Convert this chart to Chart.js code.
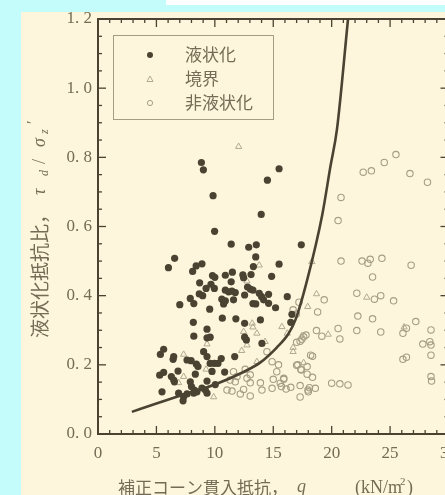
<!DOCTYPE html>
<html>
<head>
<meta charset="utf-8">
<script src="https://cdn.jsdelivr.net/npm/chart.js@4"></script>
<style>
  html, body { margin: 0; padding: 0; width: 445px; height: 495px; overflow: hidden; background: #c4fcfc; }
  #strip { position: absolute; left: 166px; top: 0; width: 279px; height: 5px; background: #fff; }
  #paper { position: absolute; left: 21px; top: 12px; width: 424px; height: 483px; background: #fdf6dc; }
  #c { position: absolute; left: 0; top: 0; }
</style>
</head>
<body>
<div id="strip"></div>
<div id="paper"></div>
<canvas id="c" width="480" height="495"></canvas>
<script>
// Liquefaction resistance ratio vs corrected cone resistance.
const seriesNames = ['液状化', '境界', '非液状化'];

const liquefied = [
  [8.85,0.785],[9.02,0.764],[15.5,0.767],[14.5,0.734],[9.85,0.689],[13.97,0.635],[9.98,0.586],[11.4,0.549],
  [12.9,0.54],[13.55,0.547],[17.4,0.547],[13.5,0.512],[6.56,0.508],[6.03,0.481],[15.5,0.491],[8.4,0.486],
  [8.9,0.492],[13.3,0.484],[8.1,0.47],[9.8,0.458],[10.0,0.453],[8.7,0.437],[9.67,0.433],[9.25,0.421],
  [9.96,0.421],[8.67,0.405],[8.96,0.4],[7.9,0.392],[8.2,0.377],[7.0,0.374],[9.56,0.361],[8.16,0.323],
  [10.9,0.459],[11.5,0.468],[12.4,0.46],[12.46,0.452],[13.1,0.461],[14.86,0.456],[11.4,0.44],[10.9,0.416],
  [11.18,0.411],[11.47,0.413],[11.75,0.409],[12.8,0.425],[13.03,0.419],[13.26,0.416],[12.55,0.402],[13.8,0.407],
  [14.0,0.397],[14.6,0.404],[16.2,0.397],[10.6,0.39],[10.75,0.376],[10.9,0.385],[11.6,0.388],[13.26,0.377],
  [13.5,0.376],[14.17,0.388],[14.6,0.378],[15.2,0.365],[10.64,0.335],[11.8,0.333],[12.55,0.32],[13.9,0.33],
  [16.6,0.346],[16.5,0.323],[9.33,0.303],[9.33,0.278],[9.6,0.28],[8.2,0.283],[12.55,0.28],[12.7,0.272],
  [14.03,0.262],[5.34,0.23],[5.62,0.245],[6.43,0.216],[6.48,0.224],[7.62,0.214],[7.97,0.212],[8.42,0.202],
  [8.56,0.195],[9.04,0.238],[9.33,0.224],[9.6,0.204],[9.96,0.204],[10.27,0.204],[10.55,0.218],[11.7,0.224],
  [9.76,0.181],[10.84,0.179],[5.28,0.17],[5.62,0.178],[6.28,0.166],[6.48,0.156],[6.54,0.151],[6.85,0.182],
  [8.33,0.173],[7.9,0.151],[8.0,0.137],[8.24,0.127],[8.47,0.122],[9.33,0.153],[10.04,0.143],[5.48,0.122],
  [6.9,0.118],[7.33,0.108],[7.28,0.096],[7.62,0.116],[9.33,0.118],[8.19,0.118],[8.9,0.133],[9.19,0.127]
];

const boundary = [
  [12.04,0.831],[13.8,0.488],[12.75,0.442],[18.3,0.498],[17.95,0.368],[18.7,0.405],[19.7,0.288],[23.0,0.395],
  [26.2,0.309],[13.2,0.32],[13.26,0.309],[12.46,0.296],[13.6,0.291],[15.74,0.31],[16.2,0.291],[12.75,0.257],
  [12.3,0.241],[13.6,0.209],[16.7,0.238],[16.7,0.25],[17.45,0.284],[14.3,0.267],[7.33,0.23],[9.33,0.26],
  [7.33,0.166],[6.9,0.148],[9.25,0.187],[9.9,0.107],[17.6,0.206]
];

const nonLiquefied = [
  [25.5,0.808],[24.5,0.785],[22.7,0.757],[23.4,0.761],[26.7,0.753],[28.2,0.728],[20.8,0.684],[20.55,0.617],
  [20.8,0.5],[22.6,0.5],[23.1,0.494],[23.3,0.505],[24.3,0.508],[26.8,0.488],[23.5,0.454],
  [22.15,0.407],[23.66,0.39],[24.2,0.4],[25.3,0.385],[22.24,0.341],[23.5,0.333],[22.15,0.299],[24.2,0.295],
  [20.55,0.305],[20.7,0.275],[18.7,0.299],[19.16,0.283],[19.36,0.388],[18.8,0.353],[17.2,0.381],[16.7,0.359],
  [16.97,0.347],[17.8,0.286],[17.6,0.281],[17.45,0.274],[17.3,0.268],[17.0,0.265],[18.36,0.225],[17.0,0.199],
  [17.36,0.187],[17.9,0.173],[18.36,0.164],[26.1,0.291],[26.4,0.306],[27.2,0.325],[28.5,0.301],[27.8,0.26],
  [28.4,0.267],[28.5,0.257],[28.5,0.228],[26.1,0.216],[26.4,0.222],[28.5,0.166],[28.55,0.153],
  [20.0,0.147],[20.7,0.145],[21.4,0.142],[15.9,0.161],[16.1,0.13],[16.5,0.135],[17.3,0.14],[17.97,0.127],
  [18.1,0.134],[18.6,0.132],[17.3,0.107],[14.46,0.238],[14.9,0.209],[15.45,0.2],[11.6,0.18],[11.9,0.166],
  [11.3,0.156],[11.75,0.151],[12.75,0.161],[13.03,0.171],[11.04,0.127],[11.47,0.124],[12.18,0.116],[12.46,0.129],
  [13.03,0.11],[13.03,0.148],[13.9,0.148],[14.03,0.127],[14.9,0.132],[15.0,0.158],[15.6,0.147],[15.9,0.158],
  [15.7,0.137],[17.1,0.2],[17.4,0.185],[12.6,0.187],[15.3,0.18],[18.2,0.228],[17.9,0.195],[18.0,0.122]
];

// boundary curve
const curve = [
  [2.9,0.064],[5,0.088],[7.2,0.113],[10,0.143],[12.5,0.18],[13.9,0.207],[15.3,0.25],[16.3,0.29],
  [16.9,0.33],[17.9,0.445],[19.2,0.635],[19.9,0.775],[20.45,0.88],[21.4,1.2]
];

const xTicks = [0, 5, 10, 15, 20, 25, 30];
const yTicks = [0, 0.2, 0.4, 0.6, 0.8, 1.0, 1.2];
const yTickLabels = ['0. 0', '0. 2', '0. 4', '0. 6', '0. 8', '1. 0', '1. 2'];

const INK = '#4a4332', TXT = '#736c56', RING = '#a59e86', TRI = '#b1a990';
const JP = '"Noto Sans CJK JP"', SERIF = '"Liberation Serif"';
const pts = (a) => a.map(([x, y]) => ({ x, y }));

// frame + inward ticks, legend, axis titles
const decor = {
  id: 'decor',
  afterDatasetsDraw(chart) {
    const { ctx, chartArea: a, scales: { x, y } } = chart;
    const line = (x1, y1, x2, y2) => { ctx.beginPath(); ctx.moveTo(x1, y1); ctx.lineTo(x2, y2); ctx.stroke(); };
    ctx.save();
    ctx.strokeStyle = INK; ctx.lineWidth = 1.3;
    for (let v = 0; v <= 30; v++) {
      const px = x.getPixelForValue(v), len = v % 5 === 0 ? 8 : 4;
      line(px, a.bottom, px, a.bottom - len); line(px, a.top, px, a.top + len);
    }
    for (let i = 0; i <= 24; i++) {
      const py = y.getPixelForValue(i * 0.05), len = i % 4 === 0 ? 8 : 4;
      line(a.left, py, a.left + len, py); line(a.right, py, a.right - len, py);
    }
    ctx.lineWidth = 2;
    ctx.strokeRect(a.left, a.top, a.right - a.left, a.bottom - a.top);

    // legend
    ctx.lineWidth = 1; ctx.strokeStyle = '#a39b84';
    ctx.strokeRect(113.5, 35.5, 160, 84);
    ctx.font = '17px ' + JP; ctx.textBaseline = 'middle';
    const rows = [55, 79, 103];
    chart.data.datasets.slice(0, 3).forEach((ds, i) => {
      const cy = rows[i];
      ctx.fillStyle = ds.backgroundColor; ctx.strokeStyle = ds.borderColor; ctx.lineWidth = 1;
      ctx.beginPath();
      if (ds.pointStyle === 'triangle') { ctx.moveTo(150, cy - 3); ctx.lineTo(153, cy + 2.5); ctx.lineTo(147, cy + 2.5); ctx.closePath(); }
      else ctx.arc(150, cy, i === 0 ? 3 : 2.6, 0, Math.PI * 2);
      if (i === 0) ctx.fill(); else ctx.stroke();
      ctx.fillStyle = TXT;
      ctx.fillText(ds.label, 185, cy);
    });

    // y title (rotated)
    ctx.save();
    ctx.translate(40, 338); ctx.rotate(-Math.PI / 2);
    ctx.fillStyle = TXT; ctx.textBaseline = 'middle'; ctx.textAlign = 'left';
    const yt = [
      ['液状化抵抗比，', '19px ' + JP, 0, 0],
      ['τ', 'italic 18px ' + SERIF, 143, 0],
      ['d', 'italic 12px ' + SERIF, 162, 5],
      ['/', '18px ' + SERIF, 174, 0],
      ['σ', 'italic 18px ' + SERIF, 191, 0],
      ['z', 'italic 12px ' + SERIF, 204, 5],
      ['′', '16px ' + SERIF, 214, -6]
    ];
    yt.forEach(([t, f, at, dy]) => { ctx.font = f; ctx.fillText(t, at, dy); });
    ctx.restore();

    // x title
    ctx.fillStyle = TXT; ctx.textBaseline = 'middle'; ctx.textAlign = 'left';
    const xt = [
      ['補正コーン貫入抵抗，', '17px ' + JP, 118, 0],
      ['q', 'italic 18px ' + SERIF, 297, -1],
      ['(kN/m', '18px ' + SERIF, 355, 0],
      ['2', '11px ' + SERIF, 400, -6],
      [')', '18px ' + SERIF, 407, 0]
    ];
    xt.forEach(([t, f, at, dy]) => { ctx.font = f; ctx.fillText(t, at, 488 + dy); });
    ctx.restore();
  }
};

new Chart(document.getElementById('c'), {
  type: 'scatter',
  data: {
    datasets: [
      { label: seriesNames[0], data: pts(liquefied), pointStyle: 'circle', pointRadius: 3.6, backgroundColor: INK, borderColor: INK, borderWidth: 0 },
      { label: seriesNames[1], data: pts(boundary), pointStyle: 'triangle', pointRadius: 3.6, backgroundColor: 'rgba(0,0,0,0)', borderColor: TRI, borderWidth: 1 },
      { label: seriesNames[2], data: pts(nonLiquefied), pointStyle: 'circle', pointRadius: 3.2, backgroundColor: 'rgba(0,0,0,0)', borderColor: RING, borderWidth: 1.1 },
      { type: 'line', label: 'curve', data: pts(curve), borderColor: INK, borderWidth: 2.6, pointRadius: 0,
        cubicInterpolationMode: 'monotone', fill: false, order: -1 }
    ]
  },
  options: {
    responsive: false,
    animation: false,
    layout: { padding: { left: 0, top: 19, right: 31.5, bottom: 0 } },
    plugins: { legend: { display: false }, tooltip: { enabled: false } },
    scales: {
      x: {
        type: 'linear', min: 0, max: 30,
        grid: { display: false, drawTicks: false }, border: { display: false },
        afterBuildTicks: (s) => { s.ticks = xTicks.map((v) => ({ value: v })); },
        afterFit: (s) => { s.height = 61; },
        ticks: { padding: 9, color: TXT, font: { family: 'Liberation Serif', size: 17 }, maxRotation: 0 }
      },
      y: {
        type: 'linear', min: 0, max: 1.2,
        grid: { display: false, drawTicks: false }, border: { display: false },
        afterBuildTicks: (s) => { s.ticks = yTicks.map((v) => ({ value: v })); },
        afterFit: (s) => { s.width = 98; },
        ticks: { padding: 6, color: TXT, font: { family: 'Liberation Serif', size: 17 },
          callback: (v, i) => yTickLabels[i] }
      }
    }
  },
  plugins: [decor]
});
</script>
</body>
</html>
